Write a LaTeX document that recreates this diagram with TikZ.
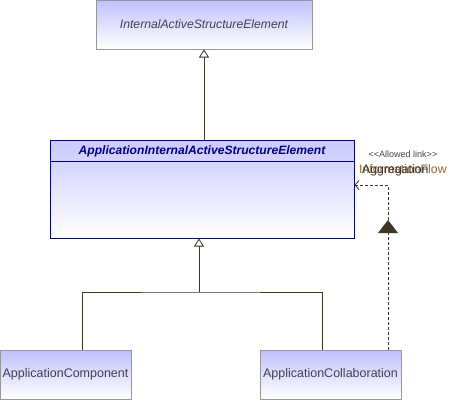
\documentclass[tikz,border=0pt]{standalone}
\usepackage{fontspec}
\setmainfont{Liberation Sans}
\newfontfamily\plainfont{Liberation Sans}
\usetikzlibrary{arrows.meta}
\definecolor{lav}{RGB}{192,192,255}
\definecolor{boxgray}{RGB}{150,150,150}
\definecolor{navy}{RGB}{0,0,128}
\definecolor{linebrown}{RGB}{64,52,36}
\definecolor{txtgray}{RGB}{64,64,80}
\definecolor{flowcol}{RGB}{150,100,40}
\begin{document}
\begin{tikzpicture}[x=1pt,y=-1pt,
  elem/.style={draw=boxgray, line width=1pt, top color=lav, bottom color=white,
    inner sep=0pt, font=\fontsize{12.5}{14}\selectfont, text=txtgray},
  elemmain/.style={draw=navy, line width=1pt, top color=lav!85, bottom color=white, inner sep=0pt},
  gen/.style={draw=linebrown, line width=0.8pt, -{Triangle[open,width=10pt,length=8pt,fill=white]}},
  treeline/.style={draw=linebrown, line width=0.8pt},
  dep/.style={draw=linebrown, line width=0.8pt, dash pattern=on 3pt off 2pt, -{Straight Barb[length=4pt,width=9pt]}},
  lbl/.style={font=\fontsize{12.3}{14}\selectfont, anchor=base west, inner sep=0pt}
]
\useasboundingbox (0,0) rectangle (458,400);

\node[elem, minimum width=216pt, minimum height=49pt, font=\fontsize{12.2}{14}\selectfont] (ias) at (204,24.5) {\itshape InternalActiveStructureElement};
\node[elemmain, minimum width=304pt, minimum height=98pt] (aiase) at (202,189) {};
\node[font=\fontsize{12.1}{14}\selectfont\bfseries\itshape, text=navy, inner sep=0pt] (aiasetitle) at (202,151) {ApplicationInternalActiveStructureElement};
\draw[navy, line width=0.8pt] ([yshift=-22pt]aiase.north west) -- ([yshift=-22pt]aiase.north east);

\node[elem, minimum width=131pt, minimum height=49pt] (ac) at (65.5,374.5) {ApplicationComponent};
\node[elem, minimum width=141pt, minimum height=49pt] (collab) at (330.5,374.5) {ApplicationCollaboration};

\draw[gen] (aiase.north -| ias.south) -- (ias.south);

\coordinate (j) at (199,292);
\draw[treeline] ([xshift=16.5pt]ac.north) |- (j) -| ([xshift=-8.5pt]collab.north);
\draw[gen] (j) -- (j |- aiase.south);

\coordinate (bend) at (388,185);
\draw[dep] (collab.north -| bend) -- (bend) -- (bend -| aiase.east);
\coordinate (mk) at (388,233);
\fill[linebrown] (mk) -- ++(-10,0) -- ++(10,-13) -- ++(10,13) -- cycle;

\node[font=\plainfont\fontsize{9}{10}\selectfont, text=txtgray, inner sep=0pt] (allowed) at (403,154) {<<Allowed link>>};
\node[lbl, text=flowcol] (lflow) at (359,173) {InformationFlow};
\node[lbl, text=black!80] (lagg) at (362,173) {Aggregation};
\end{tikzpicture}
\end{document}
